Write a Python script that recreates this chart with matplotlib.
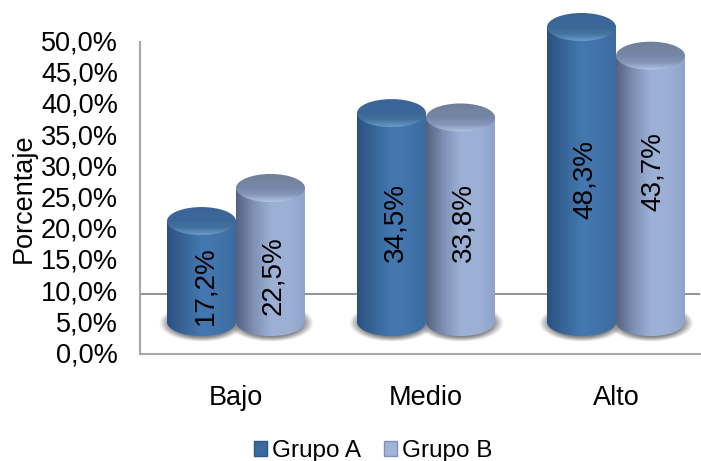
import numpy as np
import matplotlib
matplotlib.use("Agg")
import matplotlib.pyplot as plt
from matplotlib.colors import to_rgb
from matplotlib.patches import Ellipse, Patch, PathPatch
from matplotlib.path import Path
from matplotlib.transforms import ScaledTranslation

categories = ["Bajo", "Medio", "Alto"]
grupo_a = [17.2, 34.5, 48.3]
grupo_b = [22.5, 33.8, 43.7]
y_ticks = [0, 5, 10, 15, 20, 25, 30, 35, 40, 45, 50]
y_tick_labels = ["0,0%", "5,0%", "10,0%", "15,0%", "20,0%", "25,0%",
                 "30,0%", "35,0%", "40,0%", "45,0%", "50,0%"]

# where the value labels sit on each cylinder (axis units)
label_y_a = [11.0, 21.1, 27.9]
label_y_b = [12.5, 21.1, 29.3]

plt.rcParams["font.family"] = ["Liberation Sans", "DejaVu Sans"]

# cylinder look
base = 5.13
lift = 4.1
half_w = 0.1816
cap_h = 2.25
styles = {
    "a": {"side": ["#2a5280", "#386698", "#4478b0", "#4174aa", "#3c6a9e"],
          "cap": ["#3a6496", "#3c6798", "#3b6698", "#44739f", "#6a9ac8"]},
    "b": {"side": ["#55617f", "#7f90b4", "#9cb0d6", "#9db1d7", "#8fa3c8"],
          "cap": ["#6d7d9c", "#75859f", "#7686a6", "#8597ba", "#b2c5e4"]},
}


def gradient(stops, n=120):
    rgb = np.array([to_rgb(c) for c in stops])
    pos = np.linspace(0, 1, len(stops))
    t = np.linspace(0, 1, n)
    return np.stack([np.interp(t, pos, rgb[:, i]) for i in range(3)], axis=-1)


def clipped_image(ax, img, extent, clip, zorder):
    clip.set_transform(ax.transData)
    im = ax.imshow(img, extent=extent, origin="upper", aspect="auto",
                   interpolation="bilinear", zorder=zorder)
    im.set_clip_path(clip)
    im.set_clip_box(ax.figure.bbox)


def shadow(ax, xc, zorder):
    x = np.linspace(-1, 1, 160)
    y = np.linspace(-1, 1, 60)
    xx, yy = np.meshgrid(x, y)
    r = np.sqrt(xx ** 2 + yy ** 2)
    img = np.zeros((60, 160, 4))
    img[..., :3] = 0.5
    img[..., 3] = 0.95 * np.clip((1 - r) / 0.25, 0, 1)
    ax.imshow(img, extent=(xc - 0.225, xc + 0.225, 2.0, 8.0), origin="upper",
              aspect="auto", interpolation="bilinear", zorder=zorder)


def cylinder(ax, xc, value, style, zorder):
    top = value + lift
    x0, x1 = xc - half_w, xc + half_w
    th = np.linspace(np.pi, 2 * np.pi, 60)
    xs = np.r_[x0, xc + half_w * np.cos(th), x1, x0]
    ys = np.r_[top, base + cap_h * np.sin(th), top, top]
    body = PathPatch(Path(np.c_[xs, ys]), fc="none", ec="none")
    side = gradient(style["side"])[np.newaxis, :, :]
    clipped_image(ax, side, (x0, x1, base - cap_h, top), body, zorder)

    cap = Ellipse((xc, top), 2 * half_w, 2 * cap_h, fc="none", ec="none")
    shade = gradient(style["cap"])[:, np.newaxis, :]
    clipped_image(ax, shade, (x0, x1, top - cap_h, top + cap_h), cap, zorder + 0.1)


fig = plt.figure(figsize=(7.01, 4.61), dpi=100)
ax = fig.add_axes([140 / 701, (461 - 354) / 461, 560 / 701, 312 / 461])

ax.axhline(9.6, color="#808080", lw=1.2, zorder=1)

x = np.arange(len(categories))
for i, xc in enumerate(x):
    shadow(ax, xc - half_w, 2)
    shadow(ax, xc + half_w, 2)
for i, xc in enumerate(x):
    cylinder(ax, xc - half_w, grupo_a[i], styles["a"], 3 + i)
    cylinder(ax, xc + half_w, grupo_b[i], styles["b"], 3.5 + i)
    ax.text(xc - half_w + 0.02, label_y_a[i], f"{grupo_a[i]:.1f}%".replace(".", ","),
            rotation=90, ha="center", va="center", fontsize=20, zorder=10)
    ax.text(xc + half_w + 0.015, label_y_b[i], f"{grupo_b[i]:.1f}%".replace(".", ","),
            rotation=90, ha="center", va="center", fontsize=20, zorder=10)

ax.set_xlim(-96 / 190, 464 / 190)
ax.set_ylim(0, 50)
ax.set_xticks(x)
ax.set_xticklabels(categories, fontsize=19.5)
ax.set_yticks(y_ticks)
ax.set_yticklabels(y_tick_labels, fontsize=19.5)
ax.tick_params(axis="x", length=0, pad=22)
ax.tick_params(axis="y", length=0, pad=16)
ax.set_ylabel("Porcentaje", fontsize=19.5, labelpad=3)

# tick labels sit a touch higher in the original
nudge = ScaledTranslation(0, 1.5 / 100, fig.dpi_scale_trans)
for lbl in ax.get_yticklabels():
    lbl.set_transform(lbl.get_transform() + nudge)

for s in ["top", "right"]:
    ax.spines[s].set_visible(False)
for s in ["left", "bottom"]:
    ax.spines[s].set_color("#a6a6a6")
    ax.spines[s].set_linewidth(1.5)

handles = [Patch(fc="#3c6a9e", ec="#2c5685", label="Grupo A"),
           Patch(fc="#a0b5da", ec="#7f90b4", label="Grupo B")]
fig.legend(handles=handles, loc="center", bbox_to_anchor=(373 / 701, 1 - 451 / 461),
           ncol=2, frameon=False, fontsize=17.5, handlelength=0.55, handleheight=0.55,
           handletextpad=0.2, columnspacing=0.95, borderpad=0)

fig.savefig("out.png", dpi=100)
